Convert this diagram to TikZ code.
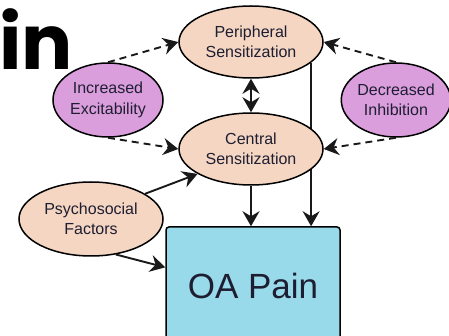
\documentclass[tikz,border=0pt]{standalone}
\usepackage{fontspec}
\setmainfont{Liberation Sans}
\newfontfamily\titlefont{Poppins}
\usetikzlibrary{arrows.meta, positioning, shapes.geometric}
\definecolor{peach}{HTML}{F4D6C2}
\definecolor{orchid}{HTML}{DB9EDD}
\definecolor{skyfill}{HTML}{99DAEA}
\definecolor{inktext}{HTML}{1E1E32}

\begin{document}
\begin{tikzpicture}[x=1pt, y=-1pt,
      every node/.style={text=inktext},
      factor/.style={ellipse, draw=black, line width=1.5pt, align=center, inner sep=0pt,
                     font=\fontsize{16}{20.5}\selectfont},
      mech/.style={factor, fill=orchid},
      sens/.style={factor, fill=peach},
      outcome/.style={draw=black, line width=1.5pt, rounded corners=3pt, fill=skyfill,
                      minimum width=174pt, minimum height=118pt, inner sep=0pt},
      arr/.style={-{Stealth[length=15pt, width=17pt, inset=5pt]}, line width=1.9pt, draw=black!90},
      darr/.style={arr, dash pattern=on 7pt off 5pt},
      thin/.style={arr, line width=1.3pt}
    ]
    \useasboundingbox (0,0) rectangle (449,336);
    % title fragment
    \node[anchor=base west, inner sep=0pt, text=black] (title) at (-1,70)
         {\titlefont\bfseries\fontsize{76}{76}\selectfont in};
    \node[sens, minimum width=144pt, minimum height=72pt] (pe) at (251,42) {Peripheral\\Sensitization};
    \node[outcome] (oa) at (253,286) {\fontsize{35}{35}\selectfont OA Pain};
    \draw[thin] (pe.-19) -- (pe.-19 |- oa.north);
    \node[sens, minimum width=144pt, minimum height=72pt] (ce) at (251,149) {Central\\Sensitization};
    \node[mech, minimum width=110pt, minimum height=74pt] (ie) at (108,100) {Increased\\Excitability};
    \node[mech, minimum width=108pt, minimum height=74pt] (di) at (396,100) {Decreased\\Inhibition};
    \node[sens, minimum width=144pt, minimum height=74pt] (ps) at (91,219) {Psychosocial\\Factors};
    \draw[darr] (ie.north) -- (pe.west);
    \draw[darr] (ie.south) -- (ce.west);
    \draw[darr] (di.north) -- (pe.east);
    \draw[darr] (di.south) -- (ce.east);
    \draw[arr, {Stealth[length=15pt, width=17pt, inset=5pt]}-{Stealth[length=15pt, width=17pt, inset=5pt]}] (pe.south) -- (ce.north);
    \draw[arr] (ce.south) -- (ce.south |- oa.north);
    \draw[arr] (ps.25) -- (ce.205);
    \draw[arr] (ps.-55) -- (oa.168);
\end{tikzpicture}
\end{document}
